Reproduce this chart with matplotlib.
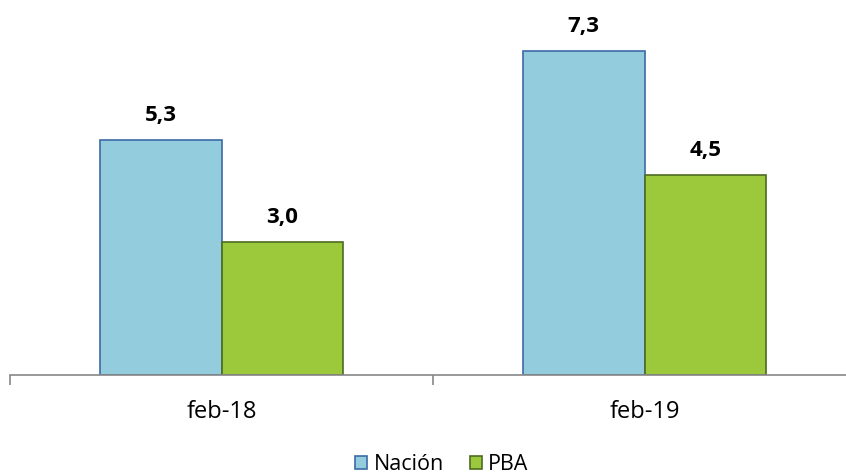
import matplotlib.pyplot as plt
import numpy as np

categories = ['feb-18', 'feb-19']
series_names = ['Nación', 'PBA']
nacion = [5.3, 7.3]
pba = [3.0, 4.5]
value_labels_nacion = ['5,3', '7,3']
value_labels_pba = ['3,0', '4,5']

plt.rcParams['font.family'] = ['Open Sans', 'DejaVu Sans']

fig = plt.figure(figsize=(8.46, 4.75), dpi=100)
W, H = 846, 475
base_y = 375
ax = fig.add_axes([10 / W, (H - base_y) / H, 846 / W, (base_y - 0) / H])

x = np.arange(len(categories))
width = 0.288

b1 = ax.bar(x - width / 2, nacion, width, color='#93CDDD', edgecolor='#3D6AA6',
            linewidth=1.2, label=series_names[0])
b2 = ax.bar(x + width / 2, pba, width, color='#9BC93B', edgecolor='#4F6B22',
            linewidth=1.2, label=series_names[1])

for rect, lab in zip(b1, value_labels_nacion):
    ax.annotate(lab, (rect.get_x() + rect.get_width() / 2, rect.get_height()),
                xytext=(0, 10), textcoords='offset points', ha='center', va='bottom',
                fontsize=16, fontweight='bold')
for rect, lab in zip(b2, value_labels_pba):
    ax.annotate(lab, (rect.get_x() + rect.get_width() / 2, rect.get_height()),
                xytext=(0, 10), textcoords='offset points', ha='center', va='bottom',
                fontsize=16, fontweight='bold')

ax.set_xlim(-0.5, 1.5)
ax.set_ylim(0, 8.45)
ax.set_yticks([])
ax.set_xticks([-0.5, 0.5, 1.5], minor=False)
ax.set_xticklabels([])
ax.set_xticks(x, minor=True)
ax.set_xticklabels(categories, minor=True, fontsize=17)
ax.tick_params(axis='x', which='major', length=7, color='#888888', width=1.2)
ax.tick_params(axis='x', which='minor', length=0, pad=18)

for s in ['top', 'right', 'left']:
    ax.spines[s].set_visible(False)
ax.spines['bottom'].set_color('#888888')
ax.spines['bottom'].set_linewidth(1.2)

fig.legend(loc='center', bbox_to_anchor=(442 / W, (H - 465) / H), ncol=2, frameon=False,
           fontsize=15.5, handlelength=0.55, handleheight=0.55, handletextpad=0.3,
           columnspacing=1.2)

fig.savefig('out.png', dpi=100)
